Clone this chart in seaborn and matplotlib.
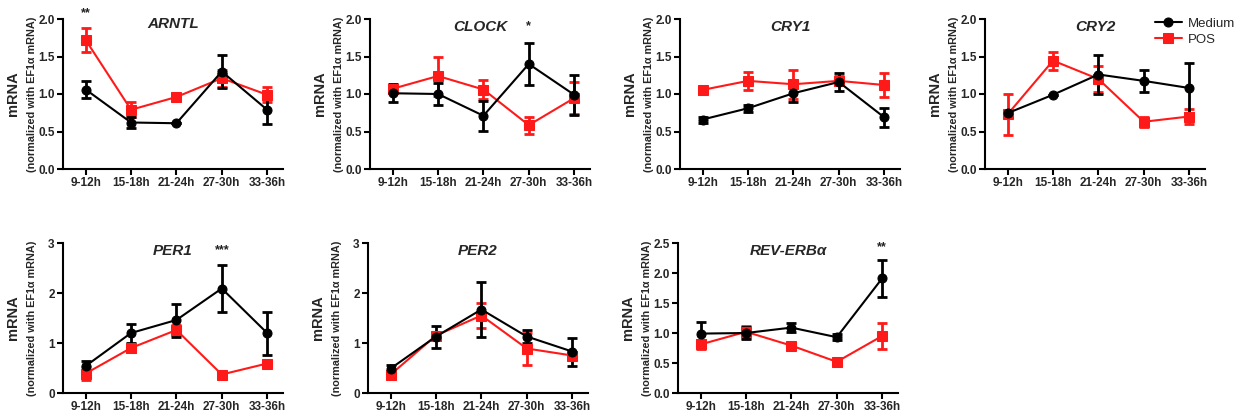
import numpy as np
import pandas as pd
import matplotlib
matplotlib.use("Agg")
import matplotlib.pyplot as plt
import seaborn as sns

sns.set_theme(style="ticks")
plt.rcParams['font.family'] = ['Liberation Sans', 'DejaVu Sans']
plt.rcParams['mathtext.fontset'] = 'dejavusans'

timepoints = ["9-12h", "15-18h", "21-24h", "27-30h", "33-36h"]

genes = ["ARNTL", "CLOCK", "CRY1", "CRY2", "PER1", "PER2", "REV-ERBα"]

medium_mean = {
    "ARNTL": [1.06, 0.62, 0.61, 1.30, 0.79],
    "CLOCK": [1.01, 1.00, 0.71, 1.40, 0.99],
    "CRY1": [0.66, 0.81, 1.01, 1.16, 0.69],
    "CRY2": [0.745, 0.99, 1.26, 1.175, 1.08],
    "PER1": [0.54, 1.20, 1.46, 2.09, 1.20],
    "PER2": [0.49, 1.13, 1.67, 1.13, 0.83],
    "REV-ERBα": [0.99, 1.00, 1.09, 0.93, 1.91],
}
medium_err = {
    "ARNTL": [0.11, 0.07, 0.0, 0.22, 0.19],
    "CLOCK": [0.12, 0.15, 0.20, 0.28, 0.27],
    "CRY1": [0.04, 0.05, 0.12, 0.12, 0.13],
    "CRY2": [0.03, 0.0, 0.255, 0.15, 0.33],
    "PER1": [0.10, 0.19, 0.33, 0.47, 0.43],
    "PER2": [0.07, 0.22, 0.55, 0.13, 0.28],
    "REV-ERBα": [0.20, 0.10, 0.08, 0.05, 0.31],
}
pos_mean = {
    "ARNTL": [1.72, 0.79, 0.96, 1.21, 0.99],
    "CLOCK": [1.07, 1.24, 1.06, 0.585, 0.945],
    "CRY1": [1.055, 1.175, 1.13, 1.175, 1.12],
    "CRY2": [0.73, 1.445, 1.20, 0.63, 0.70],
    "PER1": [0.39, 0.90, 1.26, 0.37, 0.59],
    "PER2": [0.37, 1.15, 1.55, 0.89, 0.75],
    "REV-ERBα": [0.81, 1.02, 0.79, 0.52, 0.95],
}
pos_err = {
    "ARNTL": [0.16, 0.10, 0.03, 0.11, 0.10],
    "CLOCK": [0.05, 0.26, 0.13, 0.115, 0.21],
    "CRY1": [0.02, 0.12, 0.19, 0.06, 0.16],
    "CRY2": [0.27, 0.12, 0.17, 0.07, 0.095],
    "PER1": [0.13, 0.07, 0.10, 0.05, 0.06],
    "PER2": [0.05, 0.05, 0.25, 0.32, 0.07],
    "REV-ERBα": [0.07, 0.10, 0.02, 0.02, 0.21],
}
ylims = {"ARNTL": 2.0, "CLOCK": 2.0, "CRY1": 2.0, "CRY2": 2.0,
         "PER1": 3.0, "PER2": 3.0, "REV-ERBα": 2.5}
yticks = {"ARNTL": [0, 0.5, 1.0, 1.5, 2.0], "CLOCK": [0, 0.5, 1.0, 1.5, 2.0],
          "CRY1": [0, 0.5, 1.0, 1.5, 2.0], "CRY2": [0, 0.5, 1.0, 1.5, 2.0],
          "PER1": [0, 1, 2, 3], "PER2": [0, 1, 2, 3],
          "REV-ERBα": [0, 0.5, 1.0, 1.5, 2.0, 2.5]}
ytickfmt = {"ARNTL": "{:.1f}", "CLOCK": "{:.1f}", "CRY1": "{:.1f}", "CRY2": "{:.1f}",
            "PER1": "{:.0f}", "PER2": "{:.0f}", "REV-ERBα": "{:.1f}"}
# significance: gene -> (timepoint, stars, y axes fraction)
signif = {"ARNTL": ("9-12h", "**", 1.04), "CLOCK": ("27-30h", "*", 0.955),
          "PER1": ("27-30h", "***", 0.955), "REV-ERBα": ("33-36h", "**", 0.975)}

W, H = 1237, 413
fig = plt.figure(figsize=(W / 100, H / 100), dpi=100)

lefts_top = [63, 370, 680, 985]
lefts_bot = [63, 368, 678]
aw = 220
top_y0, top_y1 = 169, 19
bot_y0, bot_y1 = 393, 243

positions = []
for l in lefts_top:
    positions.append([l / W, 1 - top_y0 / H, aw / W, (top_y0 - top_y1) / H])
for l in lefts_bot:
    positions.append([l / W, 1 - bot_y0 / H, aw / W, (bot_y0 - bot_y1) / H])

colors = {"Medium": "black", "POS": "#ff1a1a"}
markers = {"Medium": "o", "POS": "s"}

axes = []
for gi, gene in enumerate(genes):
    ax = fig.add_axes(positions[gi])
    axes.append(ax)
    for grp, means, errs in [("POS", pos_mean, pos_err), ("Medium", medium_mean, medium_err)]:
        df = pd.DataFrame({"time": timepoints, "val": means[gene], "err": errs[gene]})
        ax.errorbar(df["time"], df["val"], yerr=df["err"], fmt="none",
                    ecolor=colors[grp], elinewidth=2.0, capsize=3.5, capthick=2.0, zorder=2)
        sns.lineplot(data=df, x="time", y="val", ax=ax, color=colors[grp],
                     marker=markers[grp], markersize=6.5, markeredgecolor=colors[grp],
                     linewidth=1.5, label=grp, legend=False, zorder=3, sort=False)
    ax.set_xlim(-0.5, 4.35)
    ax.set_ylim(0, ylims[gene])
    ax.set_yticks(yticks[gene])
    ax.set_yticklabels([ytickfmt[gene].format(v) for v in yticks[gene]],
                       fontsize=8.5, fontweight="bold")
    ax.set_xticks(range(len(timepoints)))
    ax.set_xticklabels(timepoints, fontsize=8.5, fontweight="bold")
    ax.set_xlabel("")
    ax.set_ylabel("")
    sns.despine(ax=ax)
    for sp in ["left", "bottom"]:
        ax.spines[sp].set_linewidth(1.5)
        ax.spines[sp].set_color("black")
    ax.tick_params(axis="both", direction="out", length=4, width=1.5, color="black", pad=2)
    ax.set_facecolor("white")
    ty = 0.97 if gene == "ARNTL" else 0.945
    ax.text(0.5 + 0.0, ty, gene, transform=ax.transAxes, ha="center", va="center",
            fontsize=11, fontweight="bold", fontstyle="italic")
    if gene in signif:
        tp, stars, fy = signif[gene]
        xi = timepoints.index(tp)
        ax.text(xi, fy * ylims[gene], stars, ha="center", va="center",
                fontsize=9, fontweight="bold", color="#222222", clip_on=False)
    ax.text(-50 / aw, 0.5, "mRNA", transform=ax.transAxes, rotation=90,
            ha="center", va="center", fontsize=10.5, fontweight="bold")
    ax.text(-31 / aw, 0.5, "(normalized with EF1α mRNA)", transform=ax.transAxes,
            rotation=90, ha="center", va="center", fontsize=7.8, fontweight="bold")

# legend in CRY2 panel
handles, labels = axes[3].get_legend_handles_labels()
order = [labels.index("Medium"), labels.index("POS")]
leg = fig.legend([handles[i] for i in order], [labels[i] for i in order],
                 loc="upper left", bbox_to_anchor=(1150 / W, 1 - 12 / H),
                 frameon=False, fontsize=9.5, handlelength=2.0,
                 handletextpad=0.5, labelspacing=0.3, borderaxespad=0)

fig.patch.set_facecolor("white")
fig.savefig("out.png", dpi=100, facecolor="white")
